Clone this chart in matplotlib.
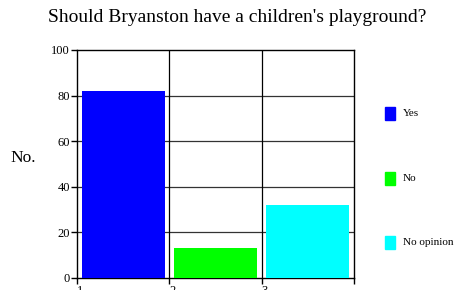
import matplotlib.pyplot as plt
from matplotlib.patches import Rectangle

# data
answers = ["Yes", "No", "No opinion"]
counts = [82, 13, 32]
colors = ["#0000ff", "#00ff00", "#00ffff"]
slot_labels = ["1", "2", "3", ""]
y_ticks = [0, 20, 40, 60, 80, 100]

plt.rcParams["font.family"] = ["Liberation Serif", "DejaVu Serif"]

fig = plt.figure(figsize=(4.56, 2.90), dpi=100)
ax = fig.add_axes([77 / 456, 12 / 290, 277 / 456, 228 / 290])

xpos = [i + 0.5 for i in range(len(counts))]
ax.bar(xpos, counts, width=0.9, color=colors, zorder=3)

ax.set_xlim(0, 3)
ax.set_ylim(0, 100)
ax.set_yticks(y_ticks)
ax.set_yticklabels([str(v) for v in y_ticks], fontsize=9)
ax.set_xticks(range(len(slot_labels)))
ax.set_xticklabels(slot_labels, fontsize=9, ha="left")
ax.tick_params(axis="both", direction="out", length=4, width=1, pad=1, color="black")

for y in y_ticks[1:-1]:
    ax.axhline(y, color="#333333", lw=0.9, zorder=1)
for x in [1, 2]:
    ax.axvline(x, color="#000000", lw=0.9, zorder=1)
for s in ax.spines.values():
    s.set_color("black")
    s.set_linewidth(1)

fig.text(237 / 456, 1 - 18 / 290, "Should Bryanston have a children's playground?",
         fontsize=14, ha="center", va="center")
fig.text(10 / 456, 1 - 158 / 290, "No.", fontsize=12.5, ha="left", va="center")

# legend
leg_y = [113.5, 178.5, 242.5]
for lab, col, yy in zip(answers, colors, leg_y):
    fig.patches.append(Rectangle((385 / 456, 1 - (yy + 6.5) / 290), 10 / 456, 13 / 290,
                                 transform=fig.transFigure, color=col, figure=fig))
    fig.text(403 / 456, 1 - yy / 290, lab, fontsize=8, ha="left", va="center")

fig.savefig("out.png", dpi=100)
